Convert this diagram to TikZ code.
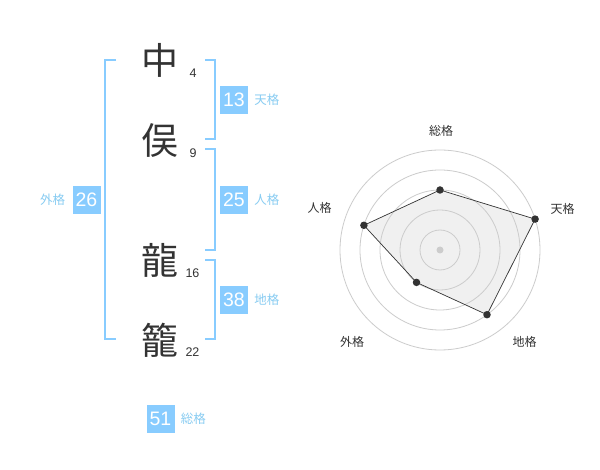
\documentclass[tikz,border=0pt]{standalone}
\usepackage{fontspec}
\usetikzlibrary{calc}
\setmainfont{Liberation Sans}
\newfontfamily\cjk{Noto Sans CJK JP}
\definecolor{kblue}{HTML}{88CCFF}
\definecolor{klab}{HTML}{88CCF2}
\definecolor{kdark}{HTML}{333333}
\definecolor{kgrid}{HTML}{CCCCCC}
\begin{document}
\begin{tikzpicture}[x=1pt,y=-1pt,
  kanji/.style={font=\cjk\fontsize{37}{37}\selectfont,text=kdark,inner sep=0pt},
  stroke/.style={font=\fontsize{12.5}{12.5}\selectfont,text=kdark,inner sep=0pt},
  valbox/.style={fill=kblue,text=white,minimum width=28pt,minimum height=28pt,inner sep=0pt,font=\fontsize{19.5}{19.5}\selectfont},
  kaku/.style={font=\cjk\fontsize{12.5}{12.5}\selectfont,text=klab,inner sep=0pt},
  bracket/.style={draw=kblue,line width=1.6pt},
  rlabel/.style={font=\cjk\fontsize{12}{12}\selectfont,text=kdark,inner sep=0pt},
  ring/.style={draw=kgrid,line width=0.8pt},
  dot/.style={circle,fill=kdark,inner sep=0pt,minimum size=7.5pt}]
\useasboundingbox (0,0) rectangle (600,470);
\fill[white] (0,0) rectangle (600,470);
% characters
\node[kanji] (c1) at (160,60.5) {中};
\node[kanji] (c2) at (160,141) {俣};
\node[kanji] (c3) at (160,260) {龍};
\node[kanji] (c4) at (160,340) {籠};
\node[stroke] (n1) at (193,73) {4};
\node[stroke] (n2) at (193,153) {9};
\node[stroke] (n3) at (192.5,273) {16};
\node[stroke] (n4) at (192.5,352) {22};
% brackets
\draw[bracket] (116,60) -- (105,60) -- (105,339) -- (116,339);
\draw[bracket] (205,60) -- (215,60) -- (215,139) -- (205,139);
\draw[bracket] (205,149) -- (215,149) -- (215,250) -- (205,250);
\draw[bracket] (205,260) -- (215,260) -- (215,339) -- (205,339);
% values
\node[valbox] (v13) at (234,100) {13};
\node[kaku,anchor=west] (t13) at ([xshift=6pt]v13.east) {天格};
\node[valbox] (v25) at (234,200) {25};
\node[kaku,anchor=west] (t25) at ([xshift=6pt]v25.east) {人格};
\node[valbox] (v26) at (86.5,200) {26};
\node[kaku,anchor=east] (t26) at ([xshift=-7pt]v26.west) {外格};
\node[valbox] (v38) at (234,300) {38};
\node[kaku,anchor=west] (t38) at ([xshift=6pt]v38.east) {地格};
\node[valbox] (v51) at (160.5,419) {51};
\node[kaku,anchor=west] (t51) at ([xshift=6pt]v51.east) {総格};
% radar
\coordinate (O) at (440,250);
\coordinate (pS) at (440,190);
\coordinate (pT) at (440+95.1,250-30.9);
\coordinate (pC) at (440+47.0,250+64.7);
\coordinate (pG) at (440-23.5,250+32.4);
\coordinate (pJ) at (440-76.1,250-24.7);
\fill[black!6] (pS) -- (pT) -- (pC) -- (pG) -- (pJ) -- cycle;
\foreach \r in {20,40,60,80,100} \draw[ring] (O) circle (\r);
\fill[kgrid] (O) circle (3.5);
\draw[kdark,line width=0.7pt] (pS) -- (pT) -- (pC) -- (pG) -- (pJ) -- cycle;
\node[dot] (dS) at (pS) {};
\node[dot] (dT) at (pT) {};
\node[dot] (dC) at (pC) {};
\node[dot] (dG) at (pG) {};
\node[dot] (dJ) at (pJ) {};
\node[rlabel] (lS) at (441,130.5) {総格};
\node[rlabel] (lT) at (562.5,208.5) {天格};
\node[rlabel] (lC) at (524.5,342) {地格};
\node[rlabel] (lG) at (352,342) {外格};
\node[rlabel] (lJ) at (319.5,208) {人格};
\end{tikzpicture}
\end{document}
